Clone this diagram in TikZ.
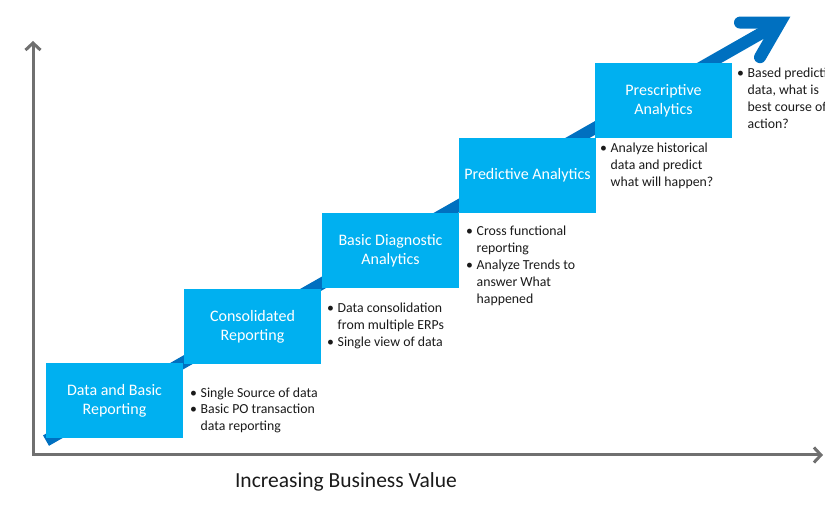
\documentclass[tikz,border=0pt]{standalone}
\usepackage{fontspec}
\setmainfont{Carlito}
\usetikzlibrary{arrows.meta}
\definecolor{boxblue}{HTML}{00B0F0}
\definecolor{arrowblue}{HTML}{0070C0}
\definecolor{axisgray}{HTML}{707070}
\definecolor{txtcol}{HTML}{1A1A1A}
\newcommand{\bitem}[1]{\makebox[10.5pt][l]{\textbullet}#1}
\newcommand{\bcont}[1]{\hspace*{10.5pt}#1}
\begin{document}
\begin{tikzpicture}[x=1pt,y=-1pt,
  stepbox/.style={rectangle, fill=boxblue, text=white, minimum width=137pt,
    minimum height=75pt, inner sep=0pt, align=center,
    font=\fontsize{16}{19}\selectfont},
  bullets/.style={anchor=base west, inner sep=0pt, align=left, text=txtcol,
    font=\fontsize{13.8}{16.8}\selectfont},
  axisline/.style={draw=axisgray, line width=3pt,
    {Straight Barb[length=7pt,width=15pt]}-{Straight Barb[length=7pt,width=15pt]}},
  bigarrow/.style={draw=arrowblue, line width=12pt},
]
\useasboundingbox (0,0) rectangle (825,510);
\clip (0,0) rectangle (825,510);

% axes
\coordinate (ytip) at (33,41);
\coordinate (orig) at (33,455);
\coordinate (xtip) at (823,455);
\draw[axisline] (ytip) -- (orig) -- (xtip);

% big arrow
\coordinate (s) at (46,440.6);
\coordinate (v) at (780,22.6);
\coordinate (a1) at (740,22.6);
\coordinate (a2) at (760,57.2);
\draw[bigarrow, line cap=butt] (s) -- (v);
\draw[bigarrow, line cap=round, line join=miter] (a1) -- (v) -- (a2);

% steps
\node[stepbox] (b1) at (114.5,400.5) {Data and Basic\\Reporting};
\node[stepbox] (b2) at (252.5,326.5) {Consolidated\\Reporting};
\node[stepbox] (b3) at (390.5,250.5) {Basic Diagnostic\\Analytics};
\node[stepbox] (b4) at (527.5,175.5) {Predictive Analytics};
\node[stepbox] (b5) at (663.5,100.5) {Prescriptive\\Analytics};

% bullet texts (anchor = baseline of last line)
\node[bullets] (t1) at (190,430.6) {\bitem{Single Source of data}\\\bitem{Basic PO transaction}\\\bcont{data reporting}};
\node[bullets] (t2) at (327,346.6) {\bitem{Data consolidation}\\\bcont{from multiple ERPs}\\\bitem{Single view of data}};
\node[bullets] (t3) at (466,303.2) {\bitem{Cross functional}\\\bcont{reporting}\\\bitem{Analyze Trends to}\\\bcont{answer What}\\\bcont{happened}};
\node[bullets] (t4) at (600,186.6) {\bitem{Analyze historical}\\\bcont{data and predict}\\\bcont{what will happen?}};
\node[bullets] (t5) at (737,128.4) {\bitem{Based predictive}\\\bcont{data, what is}\\\bcont{best course of}\\\bcont{action?}};

% axis title
\node[text=txtcol, font=\fontsize{21.5}{25}\selectfont] (xlabel) at (346,482) {Increasing Business Value};
\end{tikzpicture}
\end{document}
